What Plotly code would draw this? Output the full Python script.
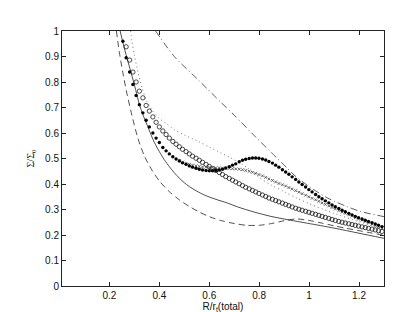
import plotly.graph_objects as go

# sampling grid of the marker series (R / r_t)
r_grid = [0.254, 0.267, 0.281, 0.294, 0.307, 0.320, 0.334, 0.347, 0.360, 0.374,
          0.387, 0.400, 0.414, 0.427, 0.440, 0.454, 0.467, 0.480, 0.493, 0.507,
          0.520, 0.533, 0.547, 0.560, 0.573, 0.587, 0.600, 0.613, 0.626, 0.640,
          0.653, 0.666, 0.680, 0.693, 0.706, 0.720, 0.733, 0.746, 0.760, 0.773,
          0.786, 0.799, 0.813, 0.826, 0.839, 0.853, 0.866, 0.879, 0.893, 0.906,
          0.919, 0.932, 0.946, 0.959, 0.972, 0.986, 0.999, 1.012, 1.026, 1.039,
          1.052, 1.065, 1.079, 1.092, 1.105, 1.119, 1.132, 1.145, 1.159, 1.172,
          1.185, 1.198, 1.212, 1.225, 1.238, 1.252, 1.265, 1.278, 1.292]

filled_dots = [0.960, 0.895, 0.839, 0.790, 0.747, 0.711, 0.679, 0.650, 0.624, 0.600,
               0.580, 0.563, 0.543, 0.530, 0.518, 0.507, 0.498, 0.490, 0.483, 0.477,
               0.471, 0.466, 0.462, 0.458, 0.455, 0.453, 0.452, 0.452, 0.453, 0.455,
               0.458, 0.463, 0.468, 0.474, 0.479, 0.487, 0.493, 0.497, 0.500, 0.502,
               0.502, 0.501, 0.498, 0.494, 0.488, 0.482, 0.474, 0.466, 0.456, 0.447,
               0.438, 0.428, 0.418, 0.408, 0.398, 0.388, 0.378, 0.369, 0.359, 0.350,
               0.342, 0.334, 0.326, 0.318, 0.311, 0.304, 0.297, 0.291, 0.285, 0.279,
               0.273, 0.268, 0.263, 0.258, 0.253, 0.248, 0.243, 0.238, 0.233]

open_circles = [None, 0.938, 0.886, 0.839, 0.800, 0.764, 0.738, 0.708, 0.686, 0.663,
                0.642, 0.624, 0.608, 0.594, 0.580, 0.567, 0.556, 0.546, 0.536, 0.527,
                0.518, 0.509, 0.501, 0.493, 0.485, 0.477, 0.469, 0.461, 0.453, 0.445,
                0.437, 0.429, 0.422, 0.415, 0.408, 0.401, 0.394, 0.387, 0.381, 0.375,
                0.369, 0.363, 0.357, 0.351, 0.345, 0.340, 0.335, 0.330, 0.325, 0.320,
                0.315, 0.310, 0.305, 0.301, 0.297, 0.293, 0.289, 0.285, 0.281, 0.277,
                0.273, 0.269, 0.265, 0.261, 0.257, 0.253, 0.250, 0.247, 0.244, 0.241,
                0.238, 0.235, 0.232, 0.229, 0.226, 0.223, 0.220, 0.217, 0.214]

small_marks = [None, None, None, None, None, None, None, None, None, None,
               None, None, None, None, None, None, None, 0.492, 0.486, 0.481,
               0.477, 0.474, 0.471, 0.469, 0.467, 0.466, 0.465, 0.464, 0.463, 0.463,
               0.462, 0.462, 0.461, 0.460, 0.459, 0.458, 0.456, 0.453, 0.450, 0.446,
               0.442, 0.437, 0.432, 0.426, 0.420, 0.414, 0.408, 0.402, 0.397, 0.392,
               0.386, 0.380, 0.374, 0.368, 0.362, 0.356, 0.350, 0.344, 0.338, 0.332,
               0.326, 0.320, 0.314, 0.308, 0.302, 0.296, 0.290, 0.285, 0.279, 0.274,
               0.268, 0.263, 0.258, 0.253, 0.248, 0.243, 0.238, 0.233, 0.228]

# model curves
solid_r = [0.243, 0.255, 0.270, 0.287, 0.305, 0.320, 0.334, 0.350, 0.365, 0.380,
           0.400, 0.420, 0.440, 0.460, 0.480, 0.500, 0.520, 0.550, 0.580, 0.620,
           0.674, 0.714, 0.780, 0.847, 0.920, 0.994, 1.100, 1.200, 1.300]
solid_s = [1.000, 0.950, 0.895, 0.836, 0.770, 0.712, 0.672, 0.634, 0.597, 0.563,
           0.527, 0.495, 0.468, 0.444, 0.423, 0.405, 0.390, 0.372, 0.357, 0.342,
           0.325, 0.310, 0.290, 0.273, 0.259, 0.246, 0.227, 0.207, 0.187]

dashed_r = [0.228, 0.240, 0.255, 0.270, 0.290, 0.314, 0.340, 0.370, 0.400, 0.440,
            0.480, 0.520, 0.560, 0.600, 0.650, 0.700, 0.750, 0.800, 0.850, 0.900,
            0.950, 1.000, 1.050, 1.100, 1.150, 1.200, 1.250, 1.300]
dashed_s = [1.000, 0.915, 0.830, 0.755, 0.670, 0.580, 0.510, 0.455, 0.412, 0.370,
            0.338, 0.312, 0.290, 0.272, 0.256, 0.245, 0.238, 0.238, 0.245, 0.256,
            0.263, 0.257, 0.247, 0.236, 0.226, 0.217, 0.208, 0.199]

dotted_r = [0.285, 0.290, 0.300, 0.314, 0.330, 0.347, 0.370, 0.394, 0.430, 0.460,
            0.500, 0.554, 0.600, 0.634, 0.687, 0.750, 0.800, 0.850, 0.900, 0.950,
            1.000, 1.100, 1.200, 1.300]
dotted_s = [1.000, 0.960, 0.905, 0.840, 0.780, 0.731, 0.690, 0.662, 0.635, 0.613,
            0.592, 0.568, 0.545, 0.528, 0.502, 0.465, 0.425, 0.395, 0.370, 0.345,
            0.323, 0.285, 0.252, 0.222]

dashdot_r = [0.385, 0.460, 0.554, 0.647, 0.700, 0.780, 0.847, 0.914, 0.940, 1.000,
             1.074, 1.150, 1.207, 1.300]
dashdot_s = [1.000, 0.900, 0.810, 0.720, 0.670, 0.590, 0.525, 0.460, 0.435, 0.390,
             0.345, 0.312, 0.292, 0.272]

x_ticks = [0.2, 0.4, 0.6, 0.8, 1.0, 1.2]
x_ticklabels = ["0.2", "0.4", "0.6", "0.8", "1", "1.2"]
y_ticks = [0, 0.1, 0.2, 0.3, 0.4, 0.5, 0.6, 0.7, 0.8, 0.9, 1.0]
y_ticklabels = ["0", "0.1", "0.2", "0.3", "0.4", "0.5", "0.6", "0.7", "0.8", "0.9", "1"]

fig = go.Figure()

fig.add_trace(go.Scatter(x=solid_r, y=solid_s, mode="lines",
                         line=dict(color="#222222", width=0.8, shape="spline", smoothing=0.8)))
fig.add_trace(go.Scatter(x=dashed_r, y=dashed_s, mode="lines",
                         line=dict(color="#222222", width=0.8, dash="6px,4px", shape="spline", smoothing=0.8)))
fig.add_trace(go.Scatter(x=dotted_r, y=dotted_s, mode="lines",
                         line=dict(color="#555555", width=0.8, dash="1px,3px", shape="spline", smoothing=0.8)))
fig.add_trace(go.Scatter(x=dashdot_r, y=dashdot_s, mode="lines",
                         line=dict(color="#333333", width=0.8, dash="7px,3px,1px,3px", shape="spline", smoothing=0.8)))

fig.add_trace(go.Scatter(x=r_grid, y=open_circles, mode="markers",
                         marker=dict(symbol="circle-open", size=4.3, color="#111111",
                                     line=dict(width=0.75, color="#111111"))))
fig.add_trace(go.Scatter(x=r_grid, y=small_marks, mode="markers",
                         marker=dict(symbol="x-thin-open", size=2.8, color="#444444",
                                     line=dict(width=0.8, color="#444444"))))
fig.add_trace(go.Scatter(x=r_grid, y=filled_dots, mode="markers",
                         marker=dict(symbol="circle", size=3.4, color="#000000")))

axis_common = dict(showline=True, linecolor="#222222", linewidth=1, mirror="ticks",
                   ticks="inside", ticklen=4, tickcolor="#222222", tickwidth=1,
                   showgrid=False, zeroline=False,
                   tickfont=dict(family="Liberation Sans, Arial, sans-serif", size=10, color="#111111"))

fig.update_layout(
    width=415, height=312,
    margin=dict(l=54, r=39, t=23, b=34),
    paper_bgcolor="white", plot_bgcolor="white",
    showlegend=False,
    xaxis=dict(range=[0.01, 1.3], tickvals=x_ticks, ticktext=x_ticklabels,
               title=dict(text="R/r<sub>t</sub>(total)", standoff=1,
                          font=dict(family="Liberation Sans, Arial, sans-serif", size=10, color="#111111")),
               **axis_common),
    yaxis=dict(range=[0, 1], tickvals=y_ticks, ticktext=y_ticklabels,
               title=dict(text="Σ/Σ<sub>0</sub>", standoff=8,
                          font=dict(family="Liberation Serif, Times New Roman, serif", size=10, color="#111111")),
               **axis_common),
)

fig.write_html("out.html")
